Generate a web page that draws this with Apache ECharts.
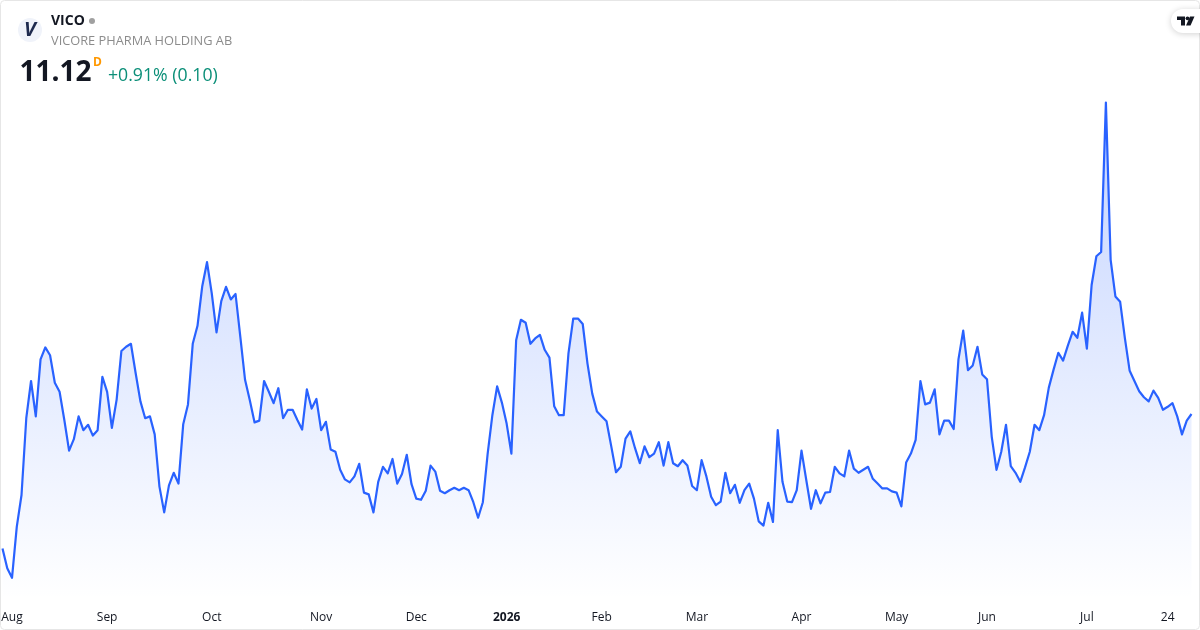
<!DOCTYPE html>
<html><head><meta charset="utf-8">
<style>html,body{margin:0;padding:0;background:#fff}#c{width:1200px;height:630px}</style>
<script src="https://cdn.jsdelivr.net/npm/echarts@6/dist/echarts.min.js"></script>
</head><body><div id="c"></div>
<script>
const prices = [
8.88,8.55,8.39,9.24,9.77,11.05,11.67,11.08,12.03,12.23,12.10,11.64,11.49,11.02,10.51,10.70,11.08,10.85,10.94,10.76,10.85,
11.74,11.49,10.89,11.36,12.17,12.24,12.29,11.80,11.33,11.05,11.08,10.78,9.91,9.48,9.93,10.14,9.96,10.95,11.28,12.29,12.59,
13.25,13.65,13.13,12.48,13.00,13.24,13.03,13.12,12.41,11.69,11.35,10.98,11.01,11.67,11.49,11.30,11.55,11.05,11.19,11.19,11.02,
10.86,11.53,11.21,11.37,10.85,10.99,10.53,10.49,10.19,10.03,9.98,10.08,10.29,9.81,9.78,9.48,9.99,10.24,10.13,10.37,9.96,10.12,
10.44,9.95,9.71,9.69,9.84,10.26,10.16,9.84,9.80,9.85,9.89,9.85,9.89,9.85,9.65,9.39,9.65,10.45,11.10,11.58,11.31,10.96,10.46,
12.35,12.69,12.64,12.29,12.38,12.44,12.19,12.06,11.25,11.10,11.10,12.13,12.71,12.71,12.62,11.96,11.46,11.16,
11.08,11.00,10.58,10.15,10.24,10.71,10.83,10.55,10.30,10.58,10.40,10.46,10.65,10.26,10.65,10.30,10.25,10.35,10.26,9.92,9.85,
10.35,10.08,9.74,9.60,9.66,10.14,9.80,9.94,9.64,9.85,9.96,9.71,9.33,9.26,9.64,9.32,10.85,9.99,9.66,9.65,9.85,10.51,10.02,9.54,
9.85,9.63,9.81,9.82,10.24,10.13,10.08,10.51,10.21,10.14,10.19,10.24,10.04,9.96,9.88,9.88,9.83,9.81,
9.58,10.31,10.46,10.69,11.67,11.28,11.31,11.53,10.78,11.01,11.01,10.87,12.03,12.51,11.85,11.93,12.24,11.78,11.70,10.74,10.19,
10.49,10.94,10.25,10.14,9.99,10.23,10.49,10.94,10.85,11.10,11.56,11.86,12.14,12.01,12.26,12.49,12.39,12.81,12.21,13.27,13.75,
13.82,16.31,13.69,13.08,12.99,12.38,11.84,11.67,11.50,11.40,11.33,11.51,11.39,11.19,11.24,11.30,11.08,10.78,11.01,11.12
];
const tickLabels = ['Aug','Sep','Oct','Nov','Dec','2026','Feb','Mar','Apr','May','Jun','Jul','24'];
const tickIndexes = [2,22,44,67,87,106,126,146,168,188,207,228,245];
const categories = prices.map((_, i) => { const k = tickIndexes.indexOf(i); return k >= 0 ? tickLabels[k] : String(i); });
const FONT = '"Open Sans", sans-serif';

const chart = echarts.init(document.getElementById('c'), null, {renderer:'canvas'});
chart.setOption({
  animation:false,
  backgroundColor:'#ffffff',
  grid:{left:2.5, width:1189, top:90, height:510, containLabel:false, outerBoundsMode:'none'},
  xAxis:{type:'category', data:categories, boundaryGap:false,
    axisLine:{show:false}, axisTick:{show:false}, splitLine:{show:false},
    axisLabel:{
      interval:(i)=>tickIndexes.includes(i), margin:12,
      color:'#131722', fontFamily:FONT, fontSize:12,
      formatter:(v)=> v==='2026' ? '{y|2026}' : v,
      rich:{y:{fontWeight:'bold', color:'#131722', fontFamily:FONT, fontSize:12}}
    }},
  yAxis:{type:'value', min:8.02, max:16.52, show:false},
  series:[{type:'line', data:prices, symbol:'none', smooth:false,
    lineStyle:{color:'#2962ff', width:2.2, join:'round'},
    itemStyle:{color:'#2962ff'},
    areaStyle:{opacity:1, color:new echarts.graphic.LinearGradient(0,0,0,1,[
      {offset:0,color:'rgba(41,98,255,0.28)'},{offset:1,color:'rgba(41,98,255,0.0)'}])}
  }],
  graphic:[
    {type:'rect', silent:true, z:50, shape:{x:0.5,y:0.5,width:1199,height:629,r:4}, style:{fill:'none',stroke:'#e6e6e6',lineWidth:1}},
    {type:'circle', z:60, shape:{cx:30,cy:30,r:12}, style:{fill:'#f0f3fa'}},
    {type:'text', z:61, x:30, y:30.5, style:{text:'V', font:'italic bold 20px '+FONT, fill:'#1e2a4e', align:'center', verticalAlign:'middle'}},
    {type:'text', z:61, x:51, y:21.5, style:{text:'VICO', font:'bold 14px '+FONT, fill:'#131722', verticalAlign:'middle'}},
    {type:'circle', z:61, shape:{cx:92,cy:21,r:3}, style:{fill:'#a0a0a0'}},
    {type:'text', z:61, x:51, y:41, style:{text:'VICORE PHARMA HOLDING AB', font:'12.8px '+FONT, fill:'#8c8c8c', verticalAlign:'middle'}},
    {type:'text', z:61, x:19.5, y:73, style:{text:'11.12', font:'bold 28px '+FONT, fill:'#131722', verticalAlign:'middle'}},
    {type:'text', z:61, x:93, y:62.5, style:{text:'D', font:'bold 12px '+FONT, fill:'#ff9800', verticalAlign:'middle'}},
    {type:'text', z:61, x:108, y:76, style:{text:'+0.91% (0.10)', font:'17.7px '+FONT, fill:'#0b8f78', verticalAlign:'middle'}},
    {type:'rect', z:60, shape:{x:1171,y:9,width:40,height:24,r:12}, style:{fill:'#ffffff',shadowBlur:6,shadowColor:'rgba(0,0,0,0.18)',shadowOffsetY:1}},
    {type:'polygon', z:61, shape:{points:[[1177,16.5],[1185,16.5],[1185,25.5],[1181,25.5],[1181,20],[1177,20]]}, style:{fill:'#131722'}},
    {type:'polygon', z:61, shape:{points:[[1190,16.5],[1194.5,16.5],[1190.5,25.5],[1186,25.5]]}, style:{fill:'#131722'}},
    {type:'circle', z:61, shape:{cx:1187.5,cy:18.3,r:1.9}, style:{fill:'#131722'}}
  ]
});
</script></body></html>
